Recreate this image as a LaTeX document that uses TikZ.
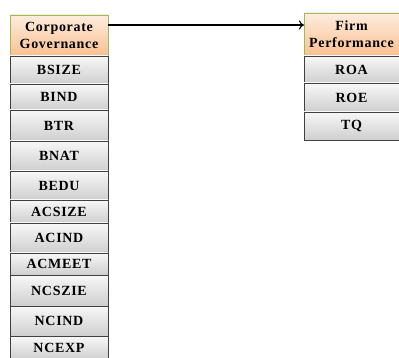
\documentclass[tikz,border=0pt]{standalone}
\usepackage{fontspec}
\setmainfont{Liberation Serif}[LetterSpace=5]
\usetikzlibrary{positioning,arrows.meta}
\definecolor{hdborder}{RGB}{155,187,89}
\definecolor{hdtop}{RGB}{253,236,222}
\definecolor{hdbot}{RGB}{250,192,144}

\begin{document}
\begin{tikzpicture}[x=1pt, y=1pt, font=\fontsize{14}{17}\selectfont\bfseries]
    \tikzstyle{every node}=[rectangle, inner sep=0pt, outer sep=0pt, line width=0.9pt]
    \tikzstyle{head}=[top color=hdtop, bottom color=hdbot, draw=hdborder, align=center]
    \tikzstyle{var}=[top color=gray!6, bottom color=gray!38, draw=black!75]
    \tikzstyle{cgcol}=[minimum width=98pt]
    \tikzstyle{fpcol}=[minimum width=95pt]
    \useasboundingbox (0,0) rectangle (399,-358);
    % corporate governance
    \node [head, cgcol, minimum height=41pt, anchor=north west] (cg) at (10,-15) {Corporate\\Governance};
    \node [var, cgcol, minimum height=28pt, below=0pt of cg] (bsize) {BSIZE};
    \node [var, cgcol, minimum height=26pt, below=0pt of bsize] (bind) {BIND};
    \node [var, cgcol, minimum height=31pt, below=0pt of bind] (btr) {BTR};
    \node [var, cgcol, minimum height=30pt, below=0pt of btr] (bnat) {BNAT};
    \node [var, cgcol, minimum height=29pt, below=0pt of bnat] (bedu) {BEDU};
    \node [var, cgcol, minimum height=23pt, below=0pt of bedu] (acsize) {ACSIZE};
    \node [var, cgcol, minimum height=30pt, below=0pt of acsize] (acind) {ACIND};
    \node [var, cgcol, minimum height=22pt, below=0pt of acind] (acmeet) {ACMEET};
    \node [var, cgcol, minimum height=31pt, below=0pt of acmeet] (ncszie) {NCSZIE};
    \node [var, cgcol, minimum height=30pt, below=0pt of ncszie] (ncind) {NCIND};
    \node [var, cgcol, minimum height=24pt, below=0pt of ncind] (ncexp) {NCEXP};
    % firm performance
    \node [head, fpcol, minimum height=43pt, anchor=north west] (fp) at (304,-13) {Firm\\Performance};
    \node [var, fpcol, minimum height=27pt, below=0pt of fp] (roa) {ROA};
    \node [var, fpcol, minimum height=29pt, below=0pt of roa] (roe) {ROE};
    \node [var, fpcol, minimum height=28pt, below=0pt of roe] (tq) {TQ};
    % link
    \coordinate (start) at ([yshift=-10pt]cg.north east);
    \draw [-{To[length=5pt,width=9pt]}, line width=1.1pt] (start) -- (start -| fp.west);
\end{tikzpicture}
\end{document}
